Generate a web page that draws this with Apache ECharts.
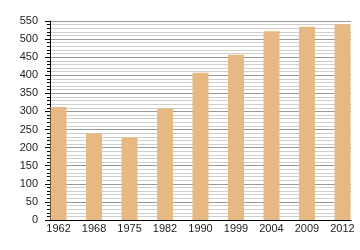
<!DOCTYPE html>
<html><head><meta charset="utf-8">
<script src="https://cdn.jsdelivr.net/npm/echarts@6/dist/echarts.min.js"></script>
<style>html,body{margin:0;padding:0;background:#fff}#c{width:360px;height:250px}</style>
</head><body><div id="c"></div>
<script>
const years = ['1962','1968','1975','1982','1990','1999','2004','2009','2012'];
const values = [312, 240, 228, 308, 407, 457, 522, 534, 541];
const yTicks = [0,50,100,150,200,250,300,350,400,450,500,550];

const chart = echarts.init(document.getElementById('c'), null, {renderer:'canvas'});
const idx = years.map((_, i) => i);
chart.setOption({
  animation: false,
  grid: {left: 50, right: 9, top: 21, bottom: 30, containLabel: false},
  xAxis: {
    type: 'value', min: -0.24, max: 8.24,
    axisLine: {show: true, onZero: false, lineStyle: {color: '#000', width: 1}},
    axisTick: {show: false},
    splitLine: {show: false},
    axisLabel: {
      customValues: idx,
      formatter: v => years[Math.round(v)],
      color: '#222', fontFamily: 'Liberation Sans', fontSize: 11, margin: 3
    }
  },
  yAxis: {
    type: 'value', min: 0, max: 550, interval: 50,
    axisLine: {show: true, onZero: false, lineStyle: {color: '#000', width: 1}},
    axisTick: {show: true, length: 5, lineStyle: {color: '#000'}},
    minorTick: {show: true, splitNumber: 5, length: 3, lineStyle: {color: '#000'}},
    splitLine: {show: true, lineStyle: {color: '#999', width: 1}},
    minorSplitLine: {show: true, lineStyle: {color: '#cfcfcf', width: 1}},
    axisLabel: {
      customValues: yTicks,
      color: '#222', fontFamily: 'Liberation Sans', fontSize: 11, margin: 12
    }
  },
  series: [{
    type: 'bar',
    barWidth: 16,
    itemStyle: {color: '#e6b982'},
    data: values.map((v, i) => [i, v])
  }]
});
</script></body></html>
